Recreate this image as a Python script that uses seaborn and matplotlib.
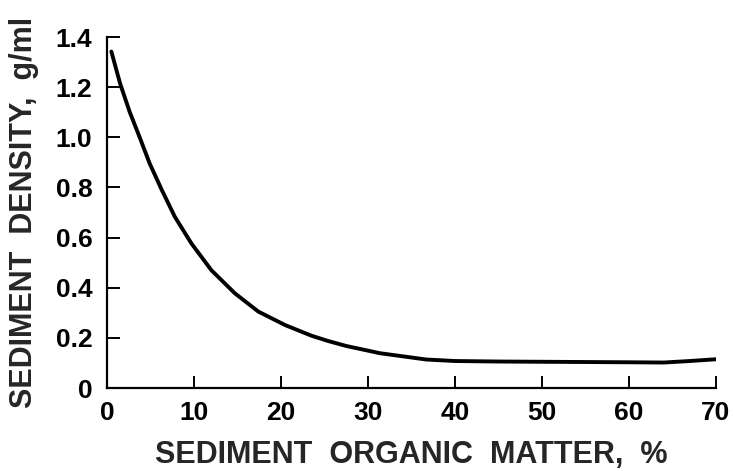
import numpy as np
import pandas as pd
import matplotlib
matplotlib.use("Agg")
import matplotlib.pyplot as plt
import seaborn as sns

# values
organic = [0.5, 1.5, 2.6, 3.8, 4.9, 6.3, 7.8, 9.7, 12.0, 14.7, 17.4, 20.5, 23.5, 25.4,
           27.5, 31.4, 36.7, 40, 45, 50, 55, 60, 64, 67, 70]
density = [1.342, 1.215, 1.102, 0.996, 0.896, 0.79, 0.683, 0.577, 0.47, 0.378, 0.305,
           0.251, 0.209, 0.188, 0.168, 0.139, 0.114, 0.108, 0.106, 0.105, 0.104, 0.103,
           0.102, 0.108, 0.115]
xticks = [0, 10, 20, 30, 40, 50, 60, 70]
yticks = [0, 0.2, 0.4, 0.6, 0.8, 1.0, 1.2, 1.4]
ylabels = ["0", "0.2", "0.4", "0.6", "0.8", "1.0", "1.2", "1.4"]

df = pd.DataFrame({"organic": organic, "density": density})

sns.set_style("ticks")
plt.rcParams["font.family"] = ["Liberation Sans", "DejaVu Sans"]
plt.rcParams["font.weight"] = "bold"

fig = plt.figure(figsize=(7.35, 4.71), dpi=100)
ax = fig.add_axes([0.1456, 0.176, 0.8284, 0.7454])
sns.lineplot(data=df, x="organic", y="density", color="black", linewidth=2.8, ax=ax)

ax.set_xlim(0, 70)
ax.set_ylim(0, 1.4)
ax.set_xticks(xticks)
ax.set_xticklabels([str(t) for t in xticks], fontsize=19, fontweight="bold")
ax.set_yticks(yticks)
ax.set_yticklabels(ylabels, fontsize=19, fontweight="bold")
ax.tick_params(axis="both", direction="in", length=9, width=1.4, colors="black")
ax.tick_params(axis="x", pad=9)
ax.tick_params(axis="y", pad=10.5)
sns.despine(ax=ax)
for s in ["left", "bottom"]:
    ax.spines[s].set_linewidth(1.6)
    ax.spines[s].set_color("black")

ax.set_xlabel("SEDIMENT  ORGANIC  MATTER,  %", fontsize=22, fontweight="bold")
ax.xaxis.set_label_coords(0.5, -0.148)
ax.set_ylabel("SEDIMENT  DENSITY,  g/ml", fontsize=22, fontweight="bold")
ax.yaxis.set_label_coords(-0.111, 0.5)

fig.savefig("out.png", dpi=100)
